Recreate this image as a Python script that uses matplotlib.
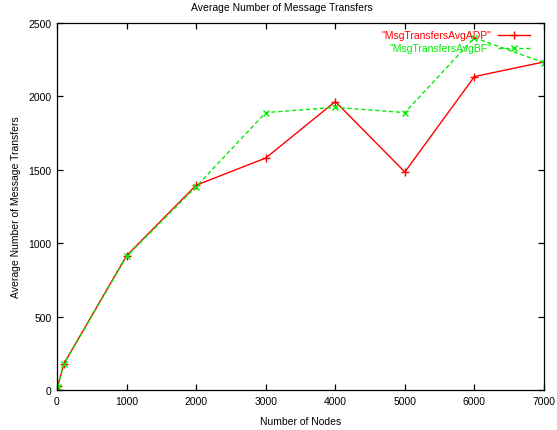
import matplotlib
matplotlib.use("Agg")
import matplotlib.pyplot as plt

# Node counts and the average number of message transfers measured for each protocol
nodes = [10, 100, 1000, 2000, 3000, 4000, 5000, 6000, 7000]
transfers_adp = [25, 180, 915, 1395, 1580, 1965, 1485, 2135, 2235]
transfers_bf = [20, 175, 910, 1385, 1890, 1925, 1890, 2400, 2230]

x_ticks = [0, 1000, 2000, 3000, 4000, 5000, 6000, 7000]
y_ticks = [0, 500, 1000, 1500, 2000, 2500]

plt.rcParams['font.family'] = ['Liberation Sans', 'DejaVu Sans']
fs = 7.5

fig = plt.figure(figsize=(5.57, 4.31), dpi=100)
ax = fig.add_axes([57 / 557, 1 - 391 / 431, 487 / 557, 367 / 431])

ax.plot(nodes, transfers_adp, color='#ff0000', lw=1.0, marker='+', ms=6, mew=1.0,
        label='"MsgTransfersAvgADP"')
ax.plot(nodes, transfers_bf, color='#00ee00', lw=1.0, marker='x', ms=5, mew=1.0,
        dashes=(3, 2), label='"MsgTransfersAvgBF"')

ax.set_xlim(0, 7000)
ax.set_ylim(0, 2500)
ax.set_xticks(x_ticks)
ax.set_yticks(y_ticks)
ax.tick_params(direction='in', top=True, right=True, length=4, width=0.9,
               labelsize=fs, pad=4)
for s in ax.spines.values():
    s.set_linewidth(0.9)

# title is centred on the whole canvas, gnuplot style
fig.text(282 / 557, 1 - 8 / 431, 'Average Number of Message Transfers',
         fontsize=fs, ha='center', va='center')
ax.set_xlabel('Number of Nodes', fontsize=fs, labelpad=7.5)
ax.set_ylabel('Average Number of Message Transfers', fontsize=fs, labelpad=5.5)

leg = ax.legend(loc='upper right', bbox_to_anchor=(0.971, 0.98), frameon=False,
                markerfirst=False, fontsize=fs, handlelength=3.1,
                handletextpad=0.6, labelspacing=0.3, borderpad=0, borderaxespad=0)
for txt, line in zip(leg.get_texts(), ax.get_lines()):
    txt.set_color(line.get_color())

fig.savefig('out.png', dpi=100)
